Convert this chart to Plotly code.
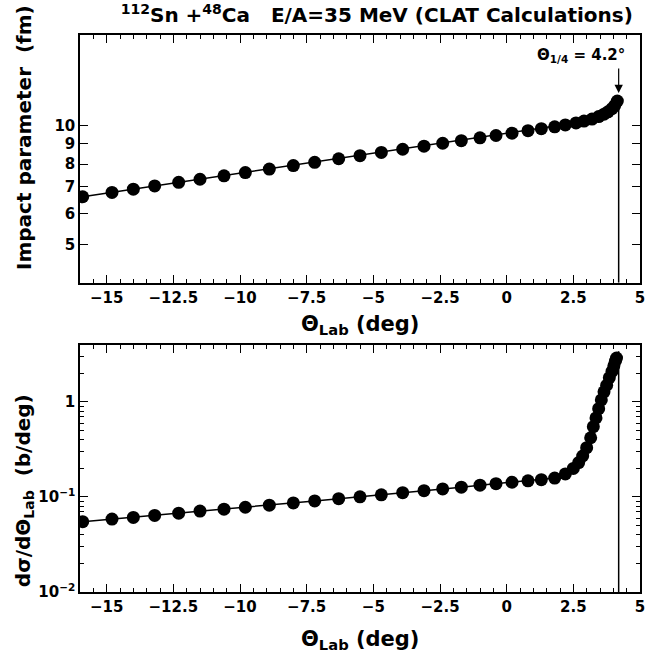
import math
import plotly.graph_objects as go

# ---- data ----
theta_top = [-15.9, -14.8, -14.0, -13.2, -12.3, -11.5, -10.6, -9.8, -8.9, -8.0, -7.2, -6.3,
             -5.5, -4.7, -3.9, -3.1, -2.4, -1.7, -1.0, -0.4, 0.2, 0.8, 1.3, 1.8, 2.2, 2.6,
             2.9, 3.2, 3.45, 3.65, 3.8, 3.95, 4.05, 4.15]
b_top = [6.61, 6.78, 6.91, 7.04, 7.19, 7.32, 7.47, 7.61, 7.77, 7.93, 8.08, 8.25,
         8.40, 8.56, 8.72, 8.88, 9.03, 9.17, 9.32, 9.45, 9.58, 9.72, 9.83, 9.94, 10.05, 10.17,
         10.28, 10.40, 10.55, 10.70, 10.85, 11.05, 11.25, 11.55]

theta_bot = [-15.9, -14.8, -14.0, -13.2, -12.3, -11.5, -10.6, -9.8, -8.9, -8.0, -7.2, -6.3,
             -5.5, -4.7, -3.9, -3.1, -2.4, -1.7, -1.0, -0.4, 0.2, 0.8, 1.3, 1.8, 2.2, 2.5,
             2.7, 2.85, 3.0, 3.15, 3.25, 3.35, 3.45, 3.55, 3.65, 3.75, 3.85, 3.95, 4.02,
             4.08, 4.12]
dsig_bot = [0.055, 0.0585, 0.061, 0.064, 0.0675, 0.071, 0.0745, 0.078, 0.082, 0.0865, 0.091,
            0.096, 0.1005, 0.1055, 0.111, 0.1165, 0.1215, 0.127, 0.133, 0.138, 0.143, 0.148,
            0.152, 0.158, 0.175, 0.2, 0.23, 0.27, 0.33, 0.42, 0.55, 0.68, 0.85, 1.05, 1.28,
            1.5, 1.8, 2.1, 2.4, 2.7, 2.9]
dsig_end = 3.4          # line continues to the grazing angle

theta_quarter = 4.2
x_ticks = [-15, -12.5, -10, -7.5, -5, -2.5, 0, 2.5, 5]
x_ticktext = ["\u221215", "\u221212.5", "\u221210", "\u22127.5", "\u22125", "\u22122.5", "0", "2.5", "5"]
b_ticks = [5, 6, 7, 8, 9, 10]
ds_ticks = [0.01, 0.1, 1]
ds_ticktext = ["10<sup>\u22122</sup>", "10<sup>\u22121</sup>", "1"]
ds_minor = [0.02, 0.03, 0.04, 0.05, 0.06, 0.07, 0.08, 0.09,
            0.2, 0.3, 0.4, 0.5, 0.6, 0.7, 0.8, 0.9, 2, 3, 4]

FONT = "DejaVu Sans"
fig = go.Figure()

mk = dict(color="black", size=13, symbol="circle")
ln = dict(color="black", width=1.5)

fig.add_trace(go.Scatter(x=theta_top, y=b_top, mode="lines+markers", marker=mk, line=ln,
                         xaxis="x", yaxis="y", showlegend=False))
fig.add_trace(go.Scatter(x=theta_bot + [theta_quarter], y=dsig_bot + [dsig_end], mode="lines",
                         line=ln, xaxis="x2", yaxis="y2", showlegend=False))
fig.add_trace(go.Scatter(x=theta_bot, y=dsig_bot, mode="markers", marker=mk,
                         xaxis="x2", yaxis="y2", showlegend=False))

# vertical lines at the quarter-point angle
fig.add_shape(type="line", xref="x", yref="y", x0=theta_quarter, x1=theta_quarter,
              y0=4, y1=b_top[-1], line=dict(color="black", width=1.5))
fig.add_shape(type="line", xref="x2", yref="y2", x0=theta_quarter, x1=theta_quarter,
              y0=0.01, y1=dsig_end, line=dict(color="black", width=1.5))

axcommon = dict(showline=True, linecolor="black", linewidth=1.5, mirror="ticks",
                ticks="inside", tickcolor="black", ticklen=8, tickwidth=1.2,
                showgrid=False, zeroline=False,
                tickfont=dict(family=FONT, size=15, color="black", weight="bold"))

fig.update_layout(
    width=649, height=659,
    margin=dict(l=80, r=4, t=35, b=67),
    paper_bgcolor="white", plot_bgcolor="white",
    xaxis=dict(domain=[0, 1], range=[-16, 5], anchor="y", tickvals=x_ticks, ticktext=x_ticktext,
               minor=dict(dtick=0.5, tick0=0, ticks="inside", ticklen=4, tickcolor="black"),
               **axcommon),
    yaxis=dict(domain=[0.555, 1], type="log", range=[0.602, 1.23], anchor="x", tickvals=b_ticks,
               **axcommon),
    xaxis2=dict(domain=[0, 1], range=[-16, 5], anchor="y2", tickvals=x_ticks, ticktext=x_ticktext,
                minor=dict(dtick=0.5, tick0=0, ticks="inside", ticklen=4, tickcolor="black"),
                **axcommon),
    yaxis2=dict(domain=[0, 0.4435], type="log", range=[-2, 0.6], anchor="x2", tickvals=ds_ticks,
                ticktext=ds_ticktext,
                minor=dict(tickvals=ds_minor, ticks="inside", ticklen=4, tickcolor="black"),
                **axcommon),
    title=dict(text="<sup>112</sup>Sn +<sup>48</sup>Ca   E/A=35 MeV (CLAT Calculations)",
               x=0.53, xref="paper", xanchor="center", y=0.977, yanchor="middle",
               font=dict(family=FONT, size=20, color="black", weight="bold")),
)

fig.add_annotation(text="Impact parameter  (fm)", xref="paper", yref="paper", x=-0.1, y=0.815,
                   textangle=-90, showarrow=False,
                   font=dict(family=FONT, size=20, color="black", weight="bold"),
                   xanchor="center", yanchor="middle")
fig.add_annotation(text="d\u03c3/d\u0398<sub>Lab</sub>  (b/deg)", xref="paper", yref="paper",
                   x=-0.1, y=0.181, textangle=-90, showarrow=False,
                   font=dict(family=FONT, size=20, color="black", weight="bold"),
                   xanchor="center", yanchor="middle")
xt_font = dict(family=FONT, size=21, color="black", weight="bold")
fig.add_annotation(text="\u0398<sub>Lab</sub> (deg)", xref="paper", yref="paper", x=0.5, y=0.479,
                   showarrow=False, font=xt_font, xanchor="center", yanchor="middle")
fig.add_annotation(text="\u0398<sub>Lab</sub> (deg)", xref="paper", yref="paper", x=0.5, y=-0.086,
                   showarrow=False, font=xt_font, xanchor="center", yanchor="middle")

# quarter-point label with arrow (log axis: annotation y in log10 units)
fig.add_annotation(text="\u0398<sub>1/4</sub> = 4.2\u00b0", x=theta_quarter + 0.3,
                   y=math.log10(15.1), xref="x", yref="y", showarrow=False,
                   font=dict(family=FONT, size=15, color="black", weight="bold"),
                   xanchor="right", yanchor="middle")
fig.add_annotation(text="", x=theta_quarter, y=math.log10(b_top[-1]), xref="x", yref="y",
                   ax=0, ay=-34, showarrow=True, arrowhead=2, arrowsize=1.4, arrowwidth=1.2,
                   arrowcolor="black", standoff=8)

fig.write_html("out.html")
